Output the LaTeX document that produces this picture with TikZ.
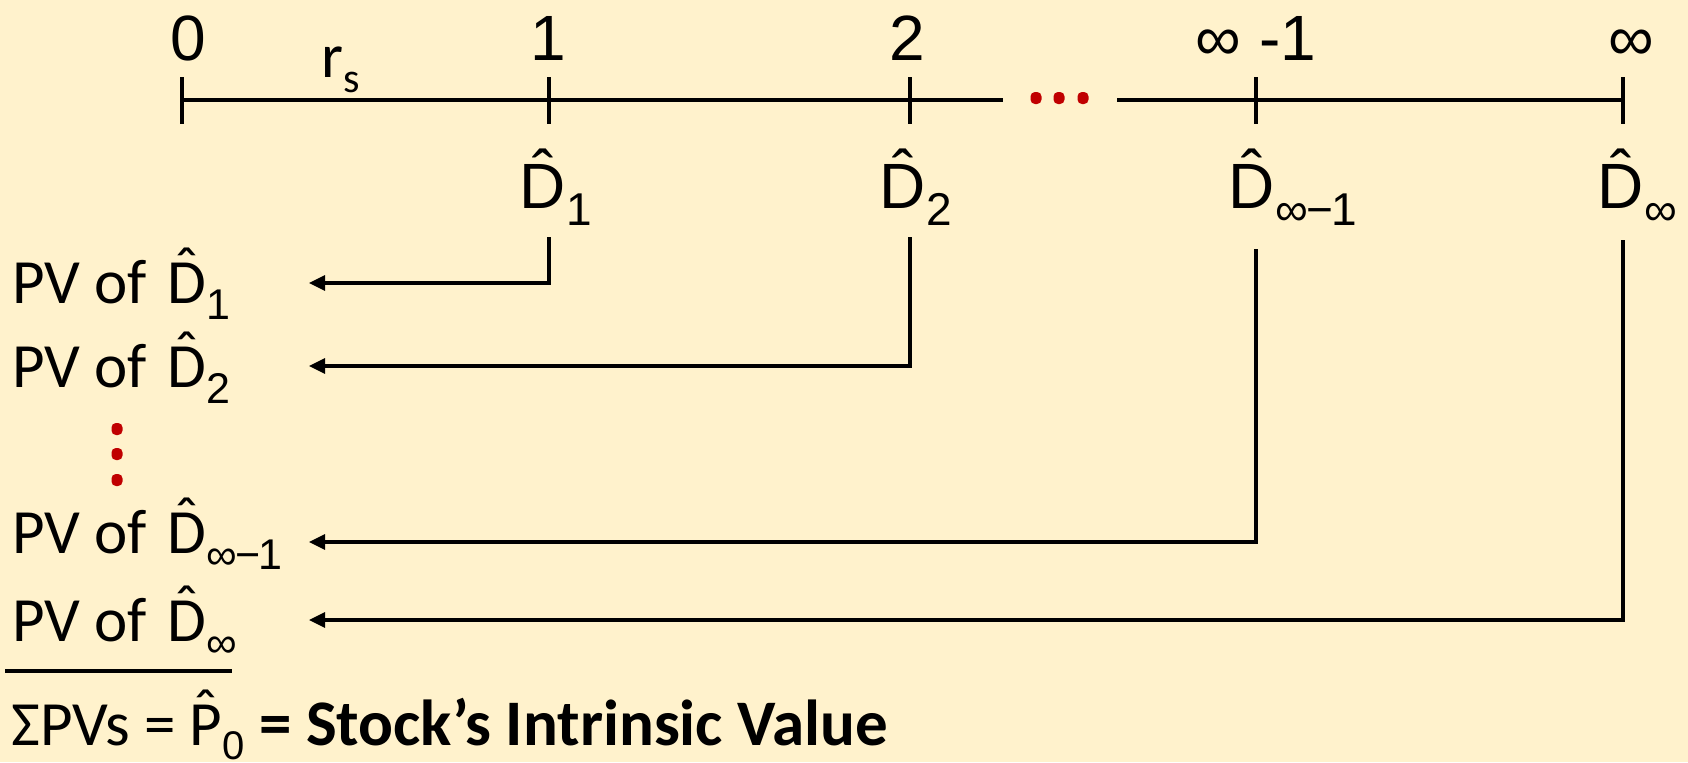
\documentclass[tikz,border=0pt]{standalone}
\usepackage{fontspec}
\setmainfont{Carlito}
\newfontfamily\arialf{Liberation Sans}
\usetikzlibrary{arrows.meta}
\definecolor{bg}{HTML}{FFF2CC}
\definecolor{dotred}{HTML}{C00000}
\newcommand\hatover[1]{\ooalign{#1\cr\hidewidth\raisebox{0.2em}{ˆ}\hidewidth\cr}}
\newcommand\topsub[1]{\rlap{\raisebox{-8.5pt}{\arialf\fontsize{23}{23}\selectfont #1}}}
\newcommand\pvsub[1]{\raisebox{-8pt}{\arialf\fontsize{21.5}{21.5}\selectfont #1}}
\newcommand\infm{∞\kern-0.5pt−\kern-1pt1}
\tikzset{
  axisline/.style={line width=1.75pt, black},
  conn/.style={line width=1.6pt, black, -{Triangle[length=8pt,width=7.5pt]}},
  toplbl/.style={anchor=base, inner sep=0pt, font=\arialf\fontsize{32}{38}\selectfont},
  pvlbl/.style={anchor=base west, inner sep=0pt, font=\fontsize{31.5}{38}\selectfont},
  reddot/.style={fill=dotred, rounded corners=2.2pt},
}
\begin{document}
\begin{tikzpicture}[x=0.5pt, y=-0.5pt]
\useasboundingbox (0,0) rectangle (1688,762);
\fill[bg] (0,0) rectangle (1688,762);

% timeline
\coordinate (a0) at (182,100);
\coordinate (a1) at (549,100);
\coordinate (a2) at (910,100);
\coordinate (a3) at (1256,100);
\coordinate (a4) at (1623,100);
\coordinate (gl) at (1003,100);
\coordinate (gr) at (1117,100);
\draw[axisline] (a0) -- (gl);
\draw[axisline] (gr) -- (a4);
\foreach \n in {a0,a1,a2,a3,a4}
  \draw[axisline] ([yshift=11.5pt]\n) -- ([yshift=-12pt]\n);
\foreach \x in {1036,1059,1083}
  \fill[reddot] (\x-5.5,92) rectangle (\x+5.5,104);

% period labels
\node[toplbl] (l0) at (188,60) {0};
\node[toplbl] (l1) at (548,60) {1};
\node[toplbl] (l2) at (907,60) {2};
\node[toplbl] (l3) at (1256,60) {∞ -1};
\node[toplbl] (l4) at (1631,60) {∞};
\node[anchor=base west, inner sep=0pt, font=\fontsize{31.5}{38}\selectfont] (rs) at (321,77)
  {r\raisebox{-7.5pt}{\fontsize{21}{21}\selectfont s}};

% dividends
\node[toplbl] (d1) at (543,208) {\hatover{D}\topsub{1}};
\node[toplbl] (d2) at (903,208) {\hatover{D}\topsub{2}};
\node[toplbl] (d3) at (1252,208) {\hatover{D}\topsub{\infm}};
\node[toplbl] (d4) at (1621,208) {\hatover{D}\topsub{∞}};

% PV labels
\node[pvlbl] (pv1) at (12,303) {PV of\kern3pt\ \hatover{D}\pvsub{1}};
\node[pvlbl] (pv2) at (12,387) {PV of\kern3pt\ \hatover{D}\pvsub{2}};
\node[pvlbl] (pv3) at (12,553) {PV of\kern3pt\ \hatover{D}\pvsub{\infm}};
\node[pvlbl] (pv4) at (12,641) {PV of\kern3pt\ \hatover{D}\pvsub{∞}};
\foreach \y in {429,454,480}
  \fill[reddot] (111.5,\y-6) rectangle (122.5,\y+6);

% connectors
\coordinate (c1) at (549,237);  \coordinate (t1) at (309,283);
\coordinate (c2) at (910,237);  \coordinate (t2) at (309,366);
\coordinate (c3) at (1256,249); \coordinate (t3) at (309,542);
\coordinate (c4) at (1623,240); \coordinate (t4) at (309,620);
\draw[conn] (c1) |- (t1);
\draw[conn] (c2) |- (t2);
\draw[conn] (c3) |- (t3);
\draw[conn] (c4) |- (t4);

% sum
\coordinate (u1) at (5,671);
\coordinate (u2) at (232,671);
\draw[line width=1.75pt] (u1) -- (u2);
\node[pvlbl] (sum) at (11,745) {ΣPVs = \hatover{P}\raisebox{-7pt}{\arialf\fontsize{20}{20}\selectfont 0}
  {\fontsize{32.5}{38}\selectfont\bfseries = Stock’s Intrinsic Value}};
\end{tikzpicture}
\end{document}
